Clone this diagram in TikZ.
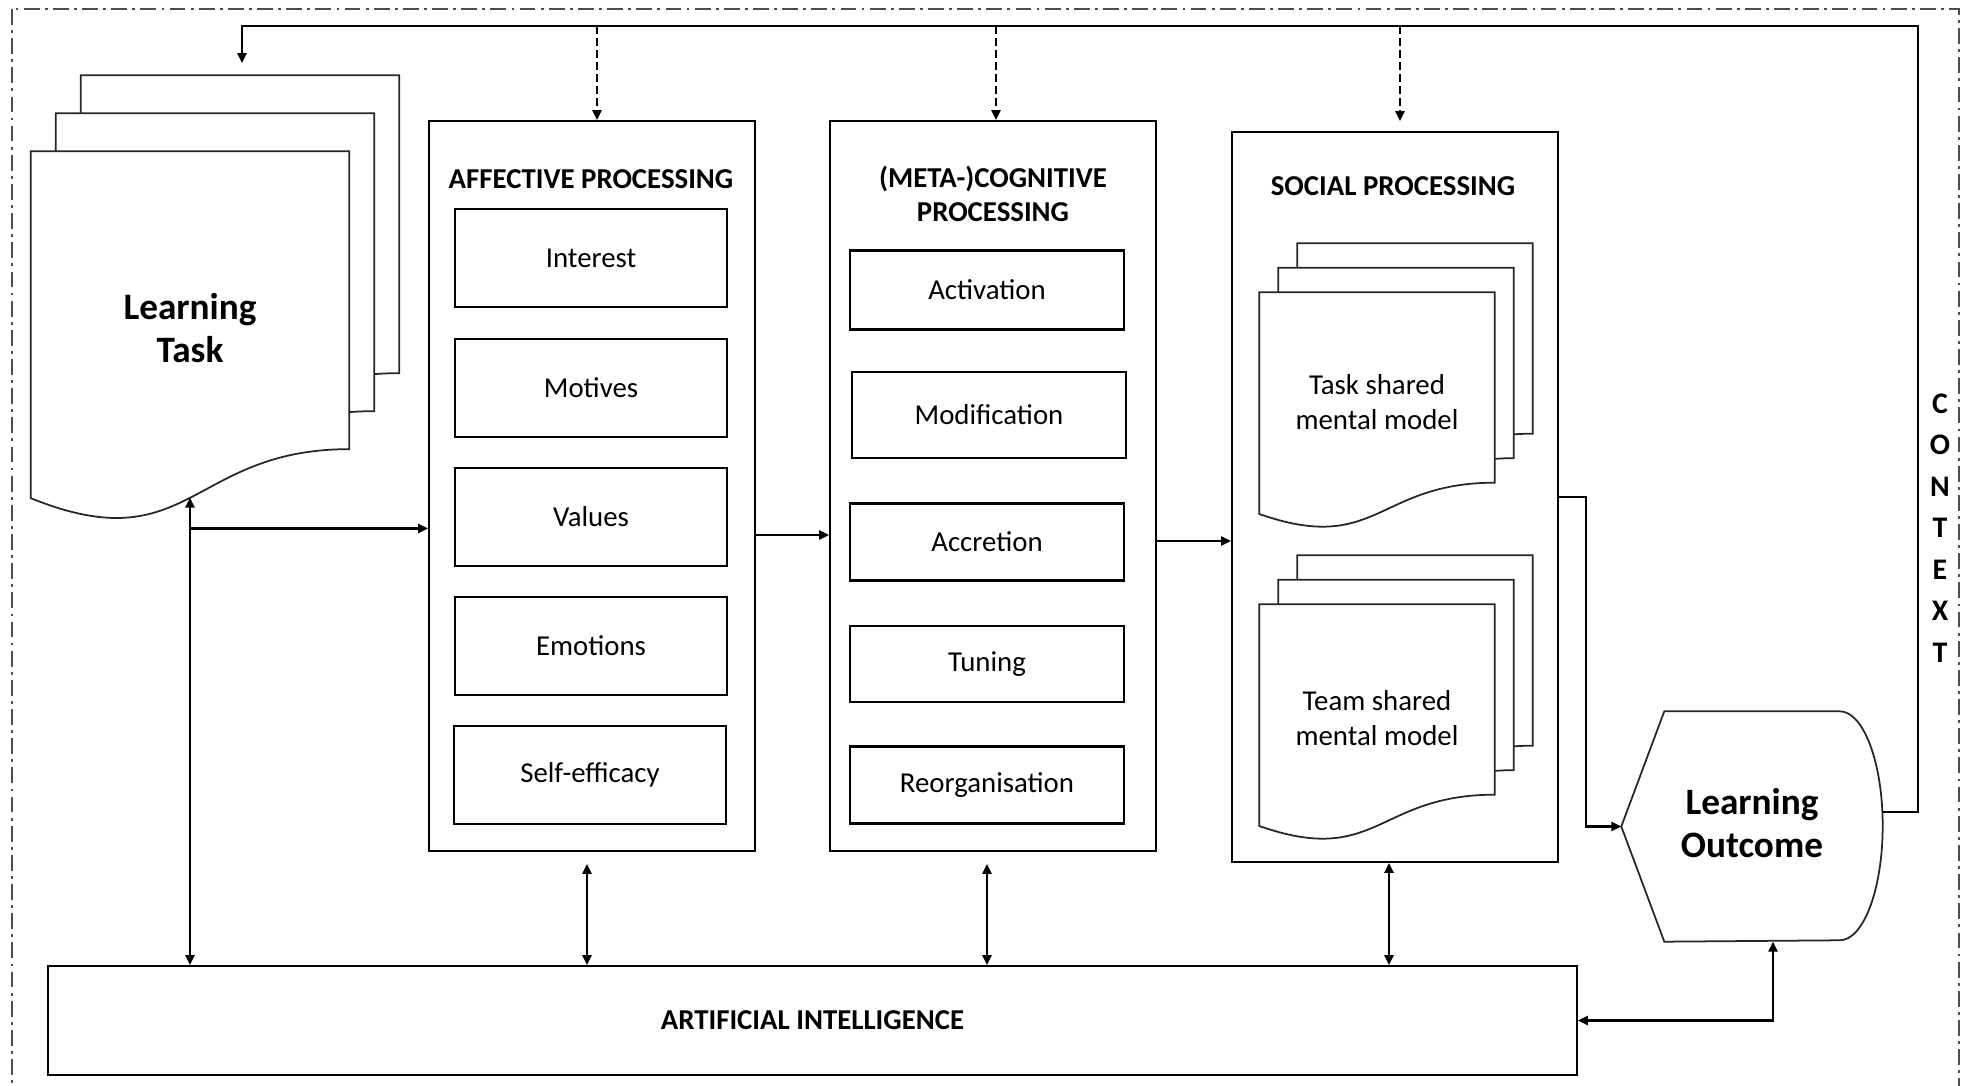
\documentclass[tikz,border=0pt]{standalone}
\usepackage{fontspec}
\setmainfont{Carlito}
\usepackage{tikz}
\usetikzlibrary{arrows.meta, positioning, calc, backgrounds}

\begin{document}
\begin{tikzpicture}[
    panel/.style={rectangle, draw=black, line width=0.6pt, minimum width=3.26cm, minimum height=7.3cm},
    item/.style={rectangle, draw=black, line width=0.6pt, minimum width=2.72cm, minimum height=0.98cm, align=center, font=\fontsize{8.2}{10}\selectfont},
    heading/.style={align=center, font=\bfseries\fontsize{8.2}{9.8}\selectfont},
    docnode/.style={rectangle, draw=none, align=center},
    doctext/.style={align=center, font=\fontsize{8.2}{10}\selectfont},
    bigtext/.style={align=center, font=\bfseries\fontsize{10.6}{12.2}\selectfont},
    outline/.style={draw=black!85, line width=0.5pt},
    page/.style={outline, fill=white},
    arrow/.style={-{Triangle[length=2.8pt, width=2.6pt]}, line width=0.6pt},
    dblarrow/.style={{Triangle[length=2.8pt, width=2.6pt]}-{Triangle[length=2.8pt, width=2.6pt]}, line width=0.6pt},
    dasharrow/.style={arrow, dash pattern=on 2.3pt off 1.1pt},
    border/.style={draw=black!70, line width=0.5pt, dash pattern=on 4.5pt off 1.5pt on 0.8pt off 1.5pt}
]
\useasboundingbox (0,0) rectangle (19.73,-10.86);

% Context frame
\draw[border] (0.12,-0.09) rectangle (19.59,-10.95);
\node[align=center, font=\bfseries\fontsize{8.5}{11.8}\selectfont] (context) at (19.40,-5.28) {C\\O\\N\\T\\E\\X\\T};

% Learning task (left)
\node[docnode, minimum width=3.17cm, minimum height=3.70cm,
  label={[bigtext, yshift=0.09cm]center:{Learning\\Task}}] (task) at (1.90,-3.37) {};

% Processing panels
\node[panel] (affect) at (5.92,-4.86) {};
\node[heading] (affhead) at (5.91,-1.79) {AFFECTIVE PROCESSING};
\node[item] (interest) at (5.91,-2.58) {Interest};
\node[item] (motives) at (5.91,-3.88) {Motives};
\node[item] (values) at (5.91,-5.17) {Values};
\node[item] (emotions) at (5.91,-6.46) {Emotions};
\node[item] (selfeff) at (5.90,-7.75) {Self-efficacy};

\node[panel] (meta) at (9.93,-4.86) {};
\node[heading] (metahead) at (9.93,-1.94) {(META-)COGNITIVE\\PROCESSING};
\node[item, minimum width=2.74cm, minimum height=0.79cm] (activ) at (9.87,-2.90) {Activation};
\node[item, minimum width=2.74cm, minimum height=0.86cm] (modif) at (9.89,-4.15) {Modification};
\node[item, minimum width=2.74cm, minimum height=0.77cm] (accr) at (9.87,-5.42) {Accretion};
\node[item, minimum width=2.74cm, minimum height=0.76cm] (tuning) at (9.87,-6.64) {Tuning};
\node[item, minimum width=2.74cm, minimum height=0.77cm] (reorg) at (9.87,-7.85) {Reorganisation};

\node[panel] (social) at (13.95,-4.97) {};
\node[heading] (sochead) at (13.93,-1.86) {SOCIAL PROCESSING};
\node[docnode, minimum width=2.34cm, minimum height=2.36cm,
  label={[doctext, yshift=0.09cm]center:{Task shared\\mental model}}] (tsmm) at (13.77,-4.11) {};
\node[docnode, minimum width=2.34cm, minimum height=2.36cm,
  label={[doctext, yshift=0.05cm]center:{Team shared\\mental model}}] (tmmm) at (13.77,-7.23) {};

% Outcome and AI
\node[docnode, minimum width=2.60cm, minimum height=2.29cm,
  label={[bigtext, yshift=0.03cm]center:{Learning\\Outcome}}] (outcome) at (17.52,-8.265) {};
\node[panel, minimum width=15.29cm, minimum height=1.09cm, font=\bfseries\fontsize{8.2}{9.8}\selectfont] (ai) at (8.125,-10.205) {ARTIFICIAL INTELLIGENCE};

% Page stacks
\begin{scope}[on background layer]
\foreach \doc/\sx/\sy in {task/0.25cm/0.38cm, tsmm/0.19cm/0.245cm, tmmm/0.19cm/0.245cm} {
  \foreach \k in {2,1,0} {
    \draw[page] let \p1=(\doc.north west), \p2=(\doc.south east),
        \n1={\x2-\x1}, \n2={\y1-\y2} in
      ({\x1+\k*\sx}, {\y1+\k*\sy}) -- ({\x2+\k*\sx}, {\y1+\k*\sy})
      -- ({\x2+\k*\sx}, {\y1+\k*\sy-0.802*\n2})
      .. controls ({\x1+0.5*\n1+\k*\sx}, {\y1+\k*\sy-0.802*\n2})
      and ({\x1+0.5*\n1+\k*\sx}, {\y1+\k*\sy-1.1075*\n2})
      .. ({\x1+\k*\sx}, {\y1+\k*\sy-0.934*\n2}) -- cycle;
  }
}
\end{scope}

% Outcome outline
\draw[outline] (outcome.west) -- ($(outcome.north west)+(0.43,0)$) -- ($(outcome.north east)+(-0.43,0)$)
  arc[start angle=90, end angle=-90, x radius=0.43cm, y radius=1.145cm]
  -- ($(outcome.south west)+(0.43,0)$) -- cycle;

% Arrows - main flow
\coordinate (taskbot) at ($(task.north)!0.933!(task.south)$);
\coordinate (split) at (taskbot |- 0,-5.285);
\draw[arrow] (split) -- (split -| affect.west);
\draw[arrow] (affect.east |- 0,-5.35) -- (meta.west |- 0,-5.35);
\draw[arrow] (meta.east |- 0,-5.41) -- (social.west |- 0,-5.41);
\draw[arrow] (social.east) -| ($(outcome.west)+(-0.35,0)$) -- (outcome.west);

% Arrows - context feedback
\coordinate (fbtop) at (19.18,-0.26);
\coordinate (fbend) at (2.42,-0.63);
\draw[arrow] ([yshift=0.145cm]outcome.east) -| (fbtop) -| (fbend);
\draw[dasharrow] ([xshift=0.05cm]affect.north |- fbtop) -- ([xshift=0.05cm]affect.north);
\draw[dasharrow] ([xshift=0.03cm]meta.north |- fbtop) -- ([xshift=0.03cm]meta.north);
\draw[dasharrow] ([xshift=0.05cm]social.north |- fbtop) -- ([xshift=0.05cm, yshift=0.1cm]social.north);

% Arrows - artificial intelligence
\draw[dblarrow] (taskbot) -- (taskbot |- ai.north);
\draw[dblarrow] ([xshift=-0.05cm, yshift=-0.12cm]affect.south) -- ([xshift=-0.05cm]affect.south |- ai.north);
\draw[dblarrow] ([xshift=-0.06cm, yshift=-0.12cm]meta.south) -- ([xshift=-0.06cm]meta.south |- ai.north);
\draw[dblarrow] ([xshift=-0.06cm]social.south) -- ([xshift=-0.06cm]social.south |- ai.north);
\draw[dblarrow] ([xshift=0.21cm]outcome.south) |- (ai.east);

\end{tikzpicture}
\end{document}
